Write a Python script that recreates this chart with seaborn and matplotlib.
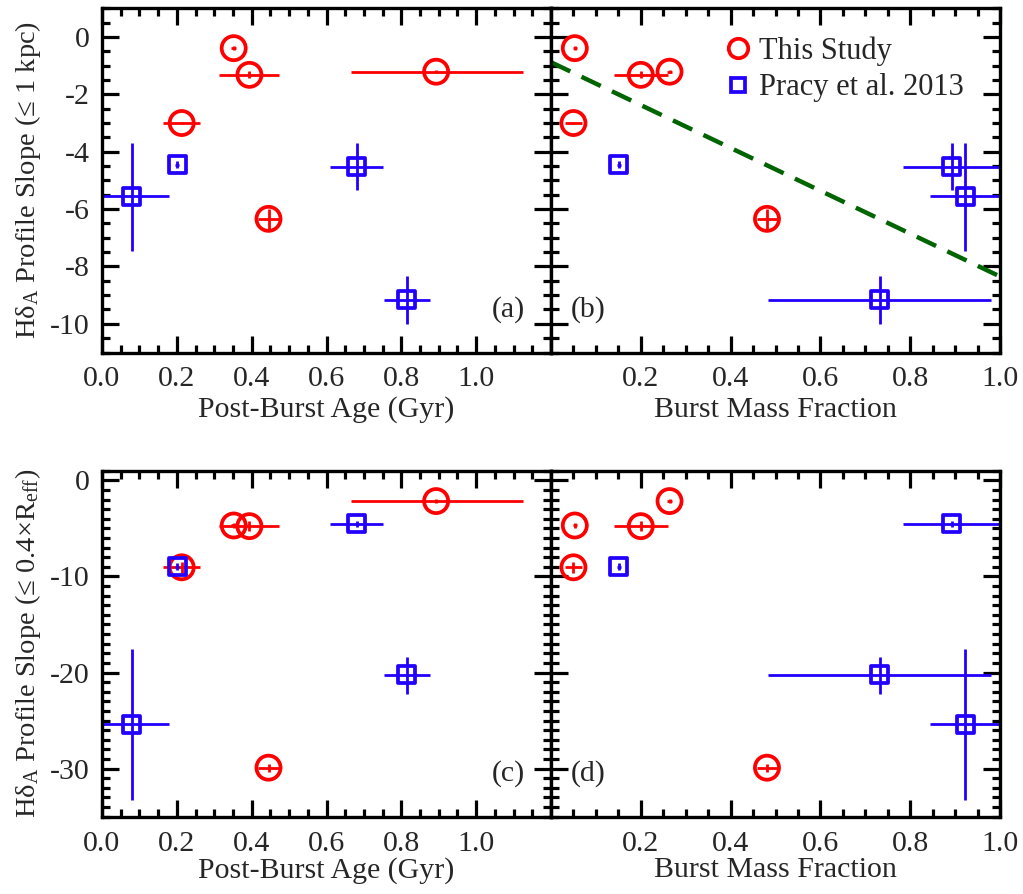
import numpy as np
import pandas as pd
import matplotlib
matplotlib.use("Agg")
import matplotlib.pyplot as plt
from matplotlib.ticker import MultipleLocator, FuncFormatter
from matplotlib.lines import Line2D
import seaborn as sns

# ---- this study ----
age_ours = [0.352, 0.394, 0.893, 0.213, 0.445]
age_ours_lo = [0.006, 0.080, 0.227, 0.050, 0.027]
age_ours_hi = [0.006, 0.080, 0.232, 0.050, 0.027]
frac_ours = [0.053, 0.200, 0.264, 0.050, 0.481]
frac_ours_err = [0.004, 0.060, 0.005, 0.018, 0.022]
slope1_ours = [-0.39, -1.32, -1.21, -3.00, -6.34]
slope1_ours_err = [0.08, 0.12, 0.05, 0.05, 0.35]
slope2_ours = [-4.70, -4.77, -2.16, -9.05, -29.9]
slope2_ours_err = [0.30, 0.50, 0.20, 0.60, 0.40]

# ---- Pracy et al. 2013 ----
age_pracy = [0.079, 0.201, 0.681, 0.815]
age_pracy_lo = [0.077, 0.005, 0.071, 0.061]
age_pracy_hi = [0.099, 0.005, 0.070, 0.062]
frac_pracy = [0.923, 0.151, 0.892, 0.732]
frac_pracy_lo = [0.080, 0.004, 0.108, 0.249]
frac_pracy_hi = [0.120, 0.004, 0.120, 0.249]
slope1_pracy = [-5.56, -4.46, -4.52, -9.16]
slope1_pracy_lo = [1.89, 0.12, 0.83, 0.84]
slope1_pracy_hi = [1.88, 0.12, 0.82, 0.84]
slope2_pracy = [-25.4, -8.98, -4.52, -20.25]
slope2_pracy_lo = [7.9, 0.4, 0.3, 1.95]
slope2_pracy_hi = [7.9, 0.4, 0.3, 1.85]

# linear relation shown in panel (b)
fit_x = [0.0, 1.0]
fit_y = [-0.88, -8.35]

panel_labels = ["(a)", "(b)", "(c)", "(d)"]
xlabels = ["Post-Burst Age (Gyr)", "Burst Mass Fraction"]
ylabels = ["H\u03b4$_\\mathrm{A}$ Profile Slope (\u2264 1 kpc)",
           "H\u03b4$_\\mathrm{A}$ Profile Slope (\u2264 0.4\u00d7R$_\\mathrm{eff}$)"]

RED = "#ff0000"
BLUE = "#2200ff"
GREEN = "#006400"

sns.set_theme(style="ticks")
plt.rcParams["font.family"] = ["Liberation Serif", "DejaVu Serif"]
plt.rcParams["mathtext.fontset"] = "custom"
plt.rcParams["mathtext.rm"] = "Liberation Serif"
plt.rcParams["mathtext.it"] = "Liberation Serif:italic"
plt.rcParams["axes.unicode_minus"] = False

W, H = 1023, 894
fig = plt.figure(figsize=(W / 100, H / 100), dpi=100)
fig.patch.set_facecolor("white")


def box(x0, y0, x1, y1):
    return [x0 / W, 1 - y1 / H, (x1 - x0) / W, (y1 - y0) / H]


axes = [
    fig.add_axes(box(102, 8.3, 551, 352.5)),
    fig.add_axes(box(551, 8.3, 1000, 352.5)),
    fig.add_axes(box(102, 470.7, 551, 816.7)),
    fig.add_axes(box(551, 470.7, 1000, 816.7)),
]

FS = 21.5


def draw(ax, x_o, xo_lo, xo_hi, y_o, yo_err, x_p, xp_lo, xp_hi, y_p, yp_lo, yp_hi):
    ax.errorbar(x_o, y_o, xerr=[xo_lo, xo_hi], yerr=[yo_err, yo_err], fmt="none",
                ecolor=RED, elinewidth=2.0, capsize=0, zorder=2)
    ax.errorbar(x_p, y_p, xerr=[xp_lo, xp_hi], yerr=[yp_lo, yp_hi], fmt="none",
                ecolor=BLUE, elinewidth=2.0, capsize=0, zorder=2)
    d_o = pd.DataFrame({"x": x_o, "y": y_o})
    d_p = pd.DataFrame({"x": x_p, "y": y_p})
    sns.scatterplot(data=d_o, x="x", y="y", ax=ax, marker="o", s=300, color=RED,
                    linewidth=2.7, zorder=3, legend=False)
    ax.collections[-1].set_facecolor("none")
    ax.collections[-1].set_edgecolor(RED)
    sns.scatterplot(data=d_p, x="x", y="y", ax=ax, marker="s", s=150, color=BLUE,
                    linewidth=2.7, zorder=3, legend=False)
    ax.collections[-1].set_facecolor("none")
    ax.collections[-1].set_edgecolor(BLUE)


draw(axes[0], age_ours, age_ours_lo, age_ours_hi, slope1_ours, slope1_ours_err,
     age_pracy, age_pracy_lo, age_pracy_hi, slope1_pracy, slope1_pracy_lo, slope1_pracy_hi)
draw(axes[1], frac_ours, frac_ours_err, frac_ours_err, slope1_ours, slope1_ours_err,
     frac_pracy, frac_pracy_lo, frac_pracy_hi, slope1_pracy, slope1_pracy_lo, slope1_pracy_hi)
draw(axes[2], age_ours, age_ours_lo, age_ours_hi, slope2_ours, slope2_ours_err,
     age_pracy, age_pracy_lo, age_pracy_hi, slope2_pracy, slope2_pracy_lo, slope2_pracy_hi)
draw(axes[3], frac_ours, frac_ours_err, frac_ours_err, slope2_ours, slope2_ours_err,
     frac_pracy, frac_pracy_lo, frac_pracy_hi, slope2_pracy, slope2_pracy_lo, slope2_pracy_hi)

sns.lineplot(x=fit_x, y=fit_y, ax=axes[1], color=GREEN, linewidth=3.2, zorder=1,
             linestyle=(0, (4.8, 2.8)))


def style(ax, row, col):
    if col == 0:
        ax.set_xlim(0, 1.2)
        ax.set_xticks([0.0, 0.2, 0.4, 0.6, 0.8, 1.0, 1.2])
        ax.xaxis.set_major_formatter(FuncFormatter(lambda v, p: "" if v > 1.05 else f"{v:.1f}"))
    else:
        ax.set_xlim(0, 1.0)
        ax.set_xticks([0.0, 0.2, 0.4, 0.6, 0.8, 1.0])
        ax.xaxis.set_major_formatter(FuncFormatter(lambda v, p: "" if v < 0.05 else f"{v:.1f}"))
    ax.xaxis.set_minor_locator(MultipleLocator(0.05))
    if row == 0:
        ax.set_ylim(-11, 1)
        ax.yaxis.set_major_locator(MultipleLocator(2))
        ax.yaxis.set_minor_locator(MultipleLocator(0.5))
    else:
        ax.set_ylim(-35, 1)
        ax.yaxis.set_major_locator(MultipleLocator(10))
        ax.yaxis.set_minor_locator(MultipleLocator(1))
    ax.yaxis.set_major_formatter(FuncFormatter(lambda v, p: f"{v:.0f}"))
    ax.tick_params(which="both", direction="in", top=True, right=True,
                   bottom=True, left=True, width=2.3, color="black")
    ax.tick_params(which="major", length=12, labelsize=FS)
    ax.tick_params(which="minor", length=6)
    ax.tick_params(axis="x", which="major", pad=10)
    ax.tick_params(axis="y", which="major", pad=9)
    if col == 1:
        ax.tick_params(labelleft=False)
    for s in ax.spines.values():
        s.set_linewidth(2.4)
        s.set_color("black")
    ax.set_facecolor("white")
    ax.set_xlabel(xlabels[col], fontsize=FS, labelpad=3 if row == 0 else 0)
    if col == 0:
        ax.set_ylabel(ylabels[row], fontsize=20.5, labelpad=5)
    else:
        ax.set_ylabel("")
    lab = panel_labels[row * 2 + col]
    if col == 0:
        ax.text(0.942, 0.125, lab, transform=ax.transAxes, ha="right", va="center", fontsize=FS)
    else:
        ax.text(0.045, 0.125, lab, transform=ax.transAxes, ha="left", va="center", fontsize=FS)


for i, ax in enumerate(axes):
    style(ax, i // 2, i % 2)

handles = [
    Line2D([], [], marker="o", linestyle="none", markersize=14, markerfacecolor="none",
           markeredgecolor=RED, markeredgewidth=2.7, label="This Study"),
    Line2D([], [], marker="s", linestyle="none", markersize=10, markerfacecolor="none",
           markeredgecolor=BLUE, markeredgewidth=2.7, label="Pracy et al. 2013"),
]
axes[1].legend(handles=handles, loc="upper right", bbox_to_anchor=(0.975, 0.99),
               frameon=False, fontsize=22, handletextpad=0.15, handlelength=1.1,
               borderpad=0.3, labelspacing=0.25)

fig.savefig("out.png", dpi=100, facecolor="white")
